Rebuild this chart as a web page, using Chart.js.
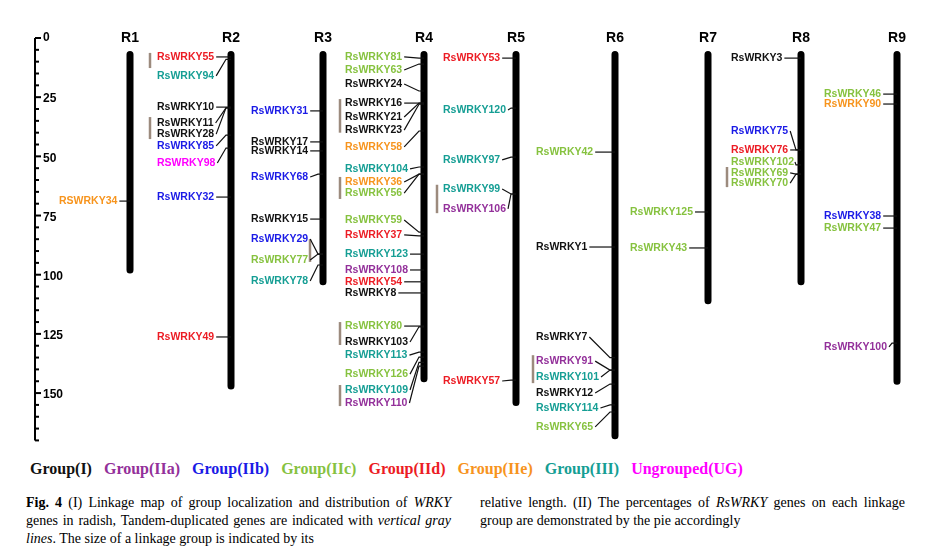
<!DOCTYPE html>
<html>
<head>
<meta charset="utf-8">
<script src="https://cdn.jsdelivr.net/npm/chart.js@4"></script>
<style>
  body { margin: 0; background: #fff; width: 935px; }
  #wrap { position: relative; width: 935px; height: 450px; }
  #legend { font: bold 16px "Liberation Serif", serif; margin: 10px 0 0 30px; white-space: nowrap; }
  #legend span { margin-right: 12px; }
  #caption { display: flex; font: 14px "Liberation Serif", serif; line-height: 18px; margin: 16px 0 0 26px; }
  #caption div { width: 425px; margin-right: 29px; text-align: justify; }
</style>
</head>
<body>
<div id="wrap"><canvas id="myChart"></canvas></div>
<div id="legend"></div>
<div id="caption">
  <div><b>Fig. 4</b> (I) Linkage map of group localization and distribution of <i>WRKY</i> genes in radish, Tandem-duplicated genes are indicated with <i>vertical gray lines</i>. The size of a linkage group is indicated by its</div>
  <div>relative length. (II) The percentages of <i>RsWRKY</i> genes on each linkage group are demonstrated by the pie accordingly</div>
</div>
<script>
// linkage groups: name, x position, start and end (Mb), where their labels start
const chromNames = ['R1', 'R2', 'R3', 'R4', 'R5', 'R6', 'R7', 'R8', 'R9'];
const chromX = [130, 231, 323, 424, 516, 615, 708, 801, 897];
const chromStart = [7, 7, 7, 7, 7, 7, 7, 7, 7];
const chromEnd = [98, 147, 103, 144, 154, 168, 111, 103, 145];
const labelX = [59, 157, 251, 345, 443, 536, 630, 731, 824];

const groupNames = ['Group(I)', 'Group(IIa)', 'Group(IIb)', 'Group(IIc)', 'Group(IId)', 'Group(IIe)', 'Group(III)', 'Ungrouped(UG)'];
const groupColors = ['#111111', '#93309A', '#1A1AE6', '#86C23F', '#EC1C24', '#F7941D', '#159E94', '#FF00FF'];

// genes: [name, chromosome index, group index, label position, marker position]
const genes = [
  ['RSWRKY34', 0, 5, 68.9, 68.9],
  ['RsWRKY55', 1, 4, 8.0, 8.0],
  ['RsWRKY94', 1, 6, 16.0, 9.0],
  ['RsWRKY10', 1, 0, 29.2, 29.2],
  ['RsWRKY11', 1, 0, 35.9, 29.5],
  ['RsWRKY28', 1, 0, 40.6, 29.5],
  ['RsWRKY85', 1, 2, 45.6, 41.0],
  ['RSWRKY98', 1, 7, 52.8, 46.5],
  ['RsWRKY32', 1, 2, 67.2, 67.2],
  ['RsWRKY49', 1, 4, 126.3, 126.3],
  ['RsWRKY31', 2, 2, 30.8, 30.8],
  ['RsWRKY17', 2, 0, 43.9, 43.9],
  ['RsWRKY14', 2, 0, 47.7, 47.7],
  ['RsWRKY68', 2, 2, 58.7, 57.5],
  ['RsWRKY15', 2, 0, 76.5, 76.5],
  ['RsWRKY29', 2, 2, 84.9, 91.3],
  ['RsWRKY77', 2, 3, 93.8, 91.3],
  ['RsWRKY78', 2, 6, 102.7, 95.9],
  ['RsWRKY81', 3, 3, 8.0, 8.5],
  ['RsWRKY63', 3, 3, 13.5, 11.0],
  ['RsWRKY24', 3, 0, 19.4, 22.4],
  ['RsWRKY16', 3, 0, 27.5, 27.5],
  ['RsWRKY21', 3, 0, 33.4, 27.5],
  ['RsWRKY23', 3, 0, 38.9, 28.0],
  ['RsWRKY58', 3, 5, 46.0, 39.3],
  ['RsWRKY104', 3, 6, 55.3, 54.5],
  ['RsWRKY36', 3, 5, 60.8, 57.5],
  ['RsWRKY56', 3, 3, 65.5, 57.5],
  ['RsWRKY59', 3, 3, 76.9, 82.0],
  ['RsWRKY37', 3, 4, 83.2, 83.6],
  ['RsWRKY123', 3, 6, 91.3, 91.3],
  ['RsWRKY108', 3, 1, 98.0, 98.0],
  ['RsWRKY54', 3, 4, 103.0, 103.0],
  ['RsWRKY8', 3, 0, 107.7, 107.7],
  ['RsWRKY80', 3, 3, 121.7, 121.7],
  ['RsWRKY103', 3, 0, 128.4, 122.0],
  ['RsWRKY113', 3, 6, 134.0, 132.7],
  ['RsWRKY126', 3, 3, 142.0, 134.8],
  ['RsWRKY109', 3, 6, 148.7, 137.0],
  ['RsWRKY110', 3, 1, 154.2, 138.6],
  ['RsWRKY53', 4, 4, 8.5, 8.5],
  ['RsWRKY120', 4, 6, 30.4, 29.6],
  ['RsWRKY97', 4, 6, 51.5, 50.3],
  ['RsWRKY99', 4, 6, 63.8, 65.9],
  ['RsWRKY106', 4, 1, 72.2, 65.9],
  ['RsWRKY57', 4, 4, 144.9, 144.5],
  ['RsWRKY42', 5, 3, 48.2, 48.2],
  ['RsWRKY1', 5, 0, 88.3, 88.3],
  ['RsWRKY7', 5, 0, 126.3, 135.0],
  ['RsWRKY91', 5, 1, 136.5, 140.3],
  ['RsWRKY101', 5, 6, 143.2, 140.3],
  ['RsWRKY12', 5, 0, 150.0, 146.2],
  ['RsWRKY114', 5, 6, 156.3, 155.0],
  ['RsWRKY65', 5, 3, 164.3, 158.0],
  ['RsWRKY125', 6, 3, 73.5, 73.5],
  ['RsWRKY43', 6, 3, 88.7, 88.7],
  ['RsWRKY3', 7, 0, 8.5, 8.5],
  ['RsWRKY75', 7, 2, 39.3, 47.3],
  ['RsWRKY76', 7, 4, 47.3, 47.3],
  ['RsWRKY102', 7, 3, 52.4, 53.6],
  ['RsWRKY69', 7, 3, 57.0, 57.5],
  ['RsWRKY70', 7, 3, 61.3, 57.5],
  ['RsWRKY46', 8, 3, 23.7, 23.7],
  ['RsWRKY90', 8, 5, 27.9, 27.9],
  ['RsWRKY38', 8, 2, 75.2, 75.2],
  ['RsWRKY47', 8, 3, 80.3, 80.3],
  ['RsWRKY100', 8, 1, 130.5, 128.9]
];

// tandem duplicates: [x position, from, to] (Mb)
const tandemBars = [
  [150, 6.3, 12.7], [150, 33.4, 42.7], [310, 85, 94.6],
  [340, 25.8, 40], [340, 58.7, 68], [340, 120, 129.7], [340, 146.6, 155.5],
  [437, 62, 74], [533, 134, 145.8], [727, 54.5, 63]
];

const axisTicks = [0, 25, 50, 75, 100, 125, 150];
const axisMax = 170;

document.getElementById('legend').innerHTML = groupNames
  .map((g, i) => `<span style="color:${groupColors[i]}">${g}</span>`).join('');

const chromData = chromNames.map((n, i) => ({
  data: [{ x: chromX[i], y: chromStart[i] }, { x: chromX[i], y: chromEnd[i] }],
  borderColor: '#000',
  borderWidth: 7,
  borderCapStyle: 'round',
  pointRadius: 0
}));

// draws axis, names, genes and tandem bars using the chart's scales
const mapPlugin = {
  id: 'mapPlugin',
  afterDatasetsDraw(chart) {
    const c = chart.ctx;
    const xs = chart.scales.x, ys = chart.scales.y;
    const px = v => xs.getPixelForValue(v);
    const py = v => ys.getPixelForValue(v);
    c.save();
    // left axis
    const ax = px(35);
    c.strokeStyle = '#000';
    c.lineWidth = 2;
    c.beginPath(); c.moveTo(ax, py(0)); c.lineTo(ax, py(axisMax)); c.stroke();
    for (let v = 0; v <= axisMax; v += 5) {
      c.beginPath(); c.moveTo(ax, py(v)); c.lineTo(ax + (v % 25 === 0 ? 6 : 4), py(v)); c.stroke();
    }
    c.fillStyle = '#000';
    c.font = 'bold 12px "Liberation Sans", Arial, sans-serif';
    c.textBaseline = 'middle';
    c.textAlign = 'left';
    axisTicks.forEach(t => c.fillText(t, ax + 8, py(t) + (t === 0 ? 0 : 2)));
    // chromosome names
    c.font = 'bold 14px "Liberation Sans", Arial, sans-serif';
    c.textAlign = 'center';
    chromNames.forEach((n, i) => c.fillText(n, px(chromX[i]), py(0)));
    // tandem bars
    c.strokeStyle = '#9C8B7E';
    c.lineWidth = 2.5;
    tandemBars.forEach(b => {
      c.beginPath(); c.moveTo(px(b[0]), py(b[1])); c.lineTo(px(b[0]), py(b[2])); c.stroke();
    });
    // genes
    c.font = 'bold 10.5px "Liberation Sans", Arial, sans-serif';
    c.textAlign = 'left';
    c.lineWidth = 1.2;
    c.strokeStyle = '#111';
    genes.forEach(g => {
      const x = px(chromX[g[1]]);
      const ly = py(g[3]), my = py(g[4]);
      const tx = px(labelX[g[1]]);
      c.fillStyle = groupColors[g[2]];
      c.fillText(g[0], tx, ly);
      const end = Math.min(tx + c.measureText(g[0]).width + 2, x - 6);
      c.beginPath();
      if (g[3] === g[4]) {
        c.moveTo(end, ly); c.lineTo(x, my);
      } else {
        c.moveTo(end, ly); c.lineTo(x - 5, my); c.lineTo(x, my);
      }
      c.stroke();
    });
    c.restore();
  }
};

const ctx = document.getElementById('myChart');
new Chart(ctx, {
  type: 'line',
  data: { datasets: chromData },
  options: {
    responsive: true,
    maintainAspectRatio: false,
    animation: false,
    layout: { padding: 0 },
    plugins: { legend: { display: false }, tooltip: { enabled: false } },
    scales: {
      x: { type: 'linear', min: 0, max: 935, display: false },
      y: { type: 'linear', min: -16.05, max: 174.05, reverse: true, display: false }
    }
  },
  plugins: [mapPlugin]
});
</script>
</body>
</html>
